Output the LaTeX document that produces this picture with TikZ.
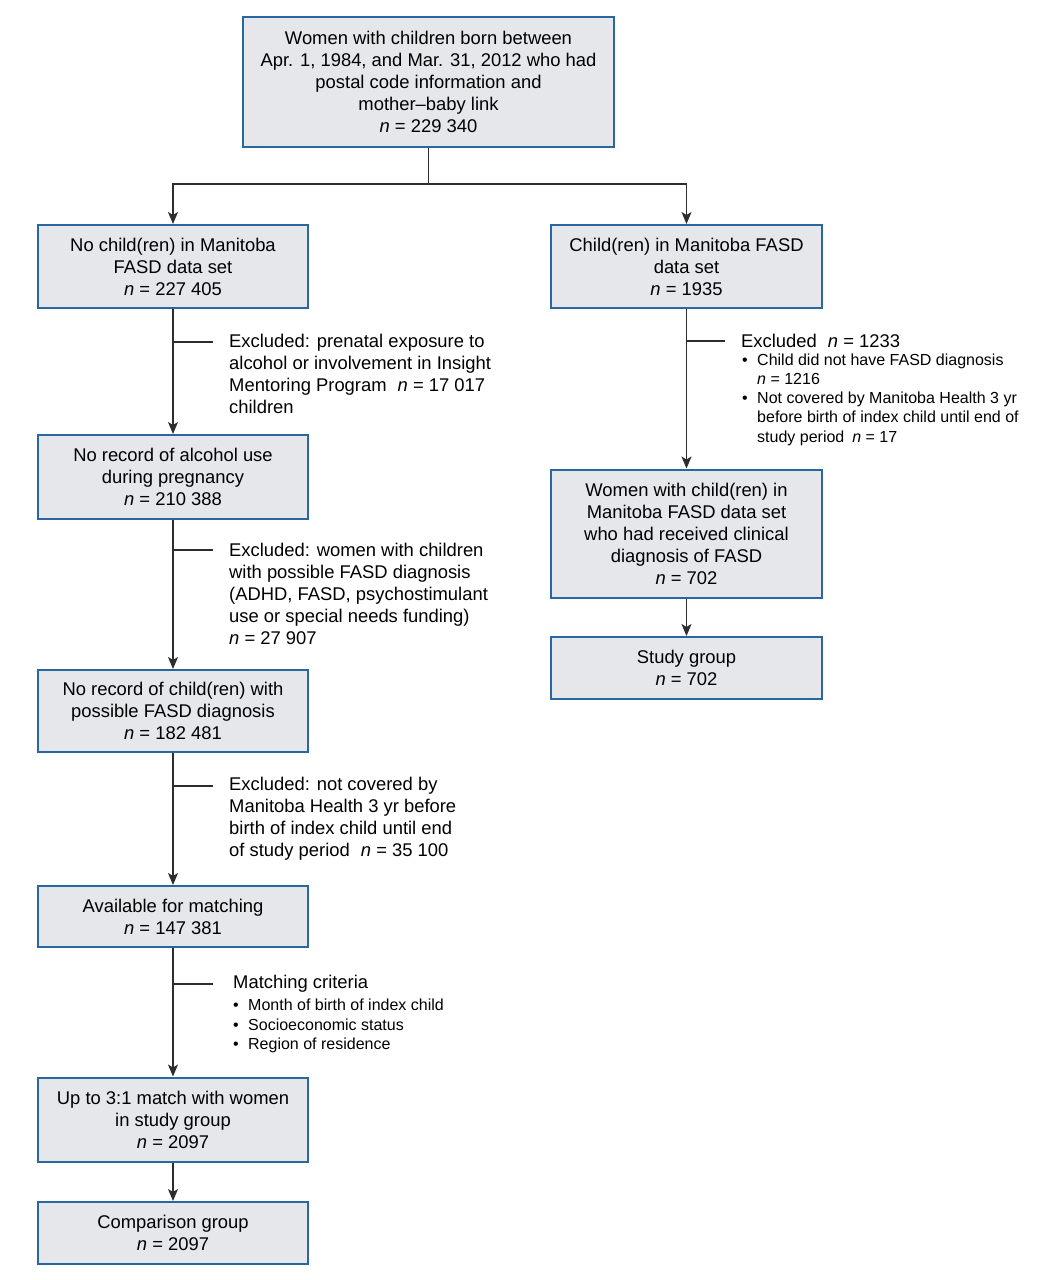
\documentclass[tikz,border=0pt]{standalone}
\usepackage{fontspec}
\setmainfont{Liberation Sans}
\usetikzlibrary{arrows.meta}
\definecolor{boxgray}{RGB}{229,231,234}
\definecolor{boxblue}{RGB}{42,102,160}
\definecolor{linegray}{RGB}{45,45,45}
\begin{document}
\begin{tikzpicture}[x=1pt,y=-1pt,
  every node/.style={font=\fontsize{18.4}{22}\selectfont},
  box/.style={draw=boxblue, fill=boxgray, line width=2pt, align=center, inner sep=0pt, minimum width=270pt},
  sidetext/.style={anchor=west, align=left, inner sep=0pt},
  smalltext/.style={anchor=west, align=left, inner sep=0pt, font=\fontsize{16}{19.3}\selectfont},
  conn/.style={draw=linegray, line width=1.4pt},
  arr/.style={conn, -{Stealth[length=12pt,width=10pt,inset=3pt]}}
]
\useasboundingbox (0,0) rectangle (1051,1280);

% boxes
\node[box, minimum width=371pt, minimum height=130pt] (top) at (428.5,82)
  {Women with children born between\\Apr. 1, 1984, and Mar. 31, 2012 who had\\postal code information and\\mother–baby link\\\textit{n} = 229 340};

\node[box, minimum height=83pt] (b1) at (173,266.5) {No child(ren) in Manitoba\\FASD data set\\\textit{n} = 227 405};
\node[box, minimum height=84pt] (b2) at (173,477) {No record of alcohol use\\during pregnancy\\\textit{n} = 210 388};
\node[box, minimum height=82pt] (b3) at (173,711) {No record of child(ren) with\\possible FASD diagnosis\\\textit{n} = 182 481};
\node[box, minimum height=61pt] (b4) at (173,916.5) {Available for matching\\\textit{n} = 147 381};
\node[box, minimum height=84pt] (b5) at (173,1119.5) {Up to 3:1 match with women\\in study group\\\textit{n} = 2097};
\node[box, minimum height=62pt] (b6) at (173,1233) {Comparison group\\\textit{n} = 2097};

\node[box, minimum width=271pt, minimum height=83pt] (r1) at (686.5,266.5) {Child(ren) in Manitoba FASD\\data set\\\textit{n} = 1935};
\node[box, minimum width=271pt, minimum height=128pt] (r2) at (686.5,533.5) {Women with child(ren) in\\Manitoba FASD data set\\who had received clinical\\diagnosis of FASD\\\textit{n} = 702};
\node[box, minimum width=271pt, minimum height=62pt] (r3) at (686.5,668) {Study group\\\textit{n} = 702};

% side texts
\node[sidetext] (ex1) at (229,374) {Excluded: prenatal exposure to\\alcohol or involvement in Insight\\Mentoring Program\hspace{0.6em}\textit{n} = 17 017\\children};
\node[sidetext] (ex2) at (229,593.5) {Excluded: women with children\\with possible FASD diagnosis\\(ADHD, FASD, psychostimulant\\use or special needs funding)\\\textit{n} = 27 907};
\node[sidetext] (ex3) at (229,819) {Excluded: not covered by\\Manitoba Health 3 yr before\\birth of index child until end\\of study period\hspace{0.6em}\textit{n} = 35 100};
\node[sidetext] (mt) at (233,984) {Matching criteria};
\node[smalltext] (ml) at (233,1026) {\makebox[15pt][l]{•}Month of birth of index child\\\makebox[15pt][l]{•}Socioeconomic status\\\makebox[15pt][l]{•}Region of residence};

\node[sidetext] (rx) at (741,341) {Excluded\hspace{0.6em}\textit{n} = 1233};
\node[smalltext] (rl) at (742,399.5) {\makebox[15pt][l]{•}Child did not have FASD diagnosis\\\hspace*{15pt}\textit{n} = 1216\\\makebox[15pt][l]{•}Not covered by Manitoba Health 3 yr\\\hspace*{15pt}before birth of index child until end of\\\hspace*{15pt}study period\hspace{0.5em}\textit{n} = 17};

% connectors
\coordinate (split) at (428.5,184);
\draw[conn] (top.south) -- (split);
\draw[arr] (split) -| (b1.north);
\draw[arr] (split) -| (r1.north);

\draw[arr] (b1.south) -- (b2.north);
\draw[arr] (b2.south) -- (b3.north);
\draw[arr] (b3.south) -- (b4.north);
\draw[arr] (b4.south) -- (b5.north);
\draw[arr] (b5.south) -- (b6.north);
\draw[arr] (r1.south) -- (r2.north);
\draw[arr] (r2.south) -- (r3.north);

% side ticks
\coordinate (t1) at (173,342);
\coordinate (t2) at (173,550);
\coordinate (t3) at (173,786);
\coordinate (t4) at (173,984);
\coordinate (t5) at (686.5,341);
\draw[conn] (t1) -- ++(40,0);
\draw[conn] (t2) -- ++(40,0);
\draw[conn] (t3) -- ++(40,0);
\draw[conn] (t4) -- ++(40,0);
\draw[conn] (t5) -- ++(38,0);
\end{tikzpicture}
\end{document}
